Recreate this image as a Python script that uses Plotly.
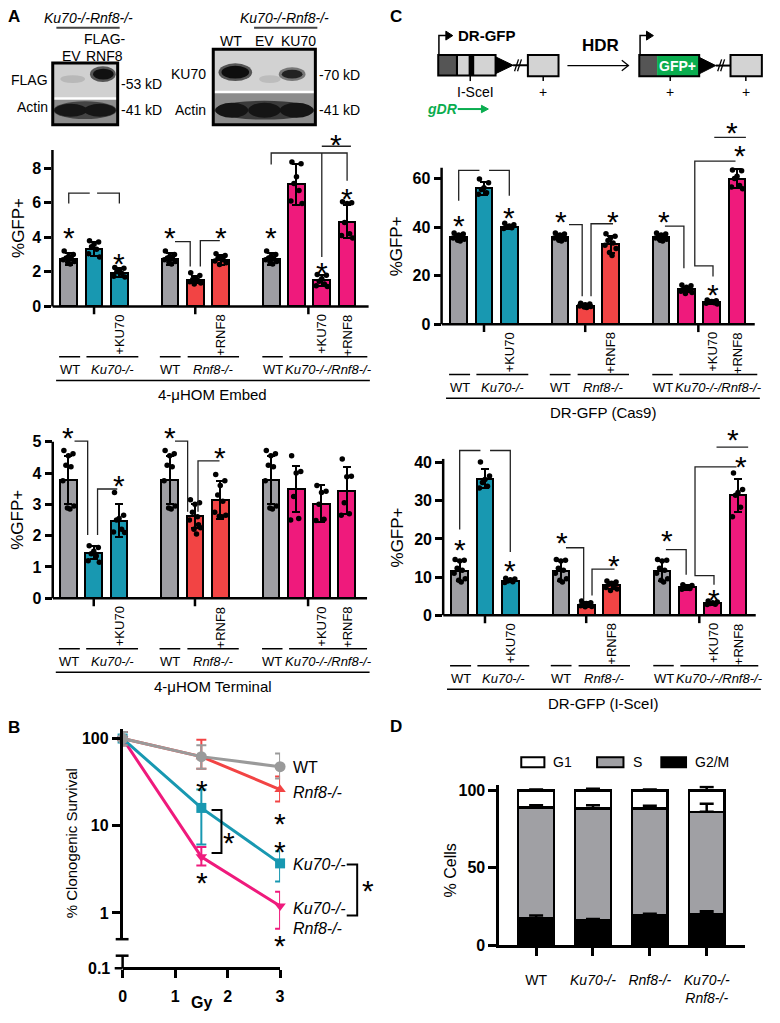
import plotly.graph_objects as go

W, H = 780, 1023
FONT = "Liberation Sans, Arial, sans-serif"

GRAY = "#9e9ea3"
TEAL = "#1898b1"
RED = "#f24444"
PINK = "#ef1a7c"
GREEN = "#0aad4f"

# ---------------- data ----------------
GROUP_SIZES = [3, 3, 4]
BAR_COLORS = [GRAY, TEAL, TEAL, GRAY, RED, RED, GRAY, PINK, PINK, PINK]
ADDBACK = ["", "", "+KU70", "", "", "+RNF8", "", "", "+KU70", "+RNF8"]
GENOTYPES = ["WT", "<i>Ku70-/-</i>", "WT", "<i>Rnf8-/-</i>", "WT", "<i>Ku70-/-/Rnf8-/-</i>"]

EMBED_MEAN = [2.75, 3.3, 1.95, 2.75, 1.55, 2.7, 2.75, 7.05, 1.5, 4.9]
EMBED_SD = [0.35, 0.4, 0.25, 0.35, 0.2, 0.3, 0.35, 1.2, 0.3, 0.95]
EMBED_DOTS = [
    [3.2, 3.0, 2.9, 2.8, 2.75, 2.7, 2.6, 2.55, 2.45],
    [3.8, 3.72, 3.6, 3.45, 3.3, 3.05, 2.85],
    [2.25, 2.2, 2.1, 2.0, 1.9, 1.75, 1.7],
    [3.2, 3.0, 2.9, 2.8, 2.75, 2.7, 2.6, 2.55, 2.45],
    [1.95, 1.78, 1.65, 1.55, 1.5, 1.42, 1.35, 1.3],
    [3.05, 2.95, 2.85, 2.78, 2.7, 2.62, 2.52, 2.42],
    [3.2, 3.0, 2.9, 2.8, 2.75, 2.7, 2.6, 2.55, 2.45],
    [8.35, 8.25, 7.5, 7.1, 6.7, 6.1, 5.95],
    [1.85, 1.8, 1.6, 1.45, 1.3, 1.2, 1.15],
    [6.05, 6.0, 5.95, 4.85, 4.2, 4.1, 3.95],
]

TERM_MEAN = [3.77, 1.46, 2.48, 3.77, 2.62, 3.14, 3.77, 3.48, 3.02, 3.43]
TERM_SD = [0.77, 0.2, 0.53, 0.77, 0.38, 0.62, 0.77, 0.74, 0.6, 0.75]
TERM_DOTS = [
    [4.72, 4.62, 4.55, 4.25, 4.2, 3.75, 2.95, 2.88, 2.85],
    [1.68, 1.62, 1.5, 1.42, 1.35, 1.2, 1.15],
    [3.38, 2.65, 2.55, 2.5, 2.2, 2.12, 2.1],
    [4.72, 4.62, 4.55, 4.25, 4.2, 3.75, 2.95, 2.88, 2.85],
    [3.15, 3.05, 3.0, 2.75, 2.6, 2.5, 2.25, 2.2, 2.05, 2.35],
    [3.95, 3.75, 3.6, 3.3, 3.1, 2.75, 2.65, 2.62, 2.6],
    [4.72, 4.62, 4.55, 4.25, 4.2, 3.75, 2.95, 2.88, 2.85],
    [4.55, 4.05, 4.0, 3.25, 2.55, 2.5],
    [3.6, 3.42, 3.38, 3.0, 2.52, 2.48],
    [4.45, 3.9, 3.88, 3.05, 2.7, 2.65],
]

CAS9_MEAN = [36, 56, 40, 36, 7.7, 33, 36, 14.3, 9.1, 60]
CAS9_SD = [1.3, 2.8, 0.8, 1.3, 0.5, 3.5, 1.3, 1.2, 0.7, 3.9]
CAS9_DOTS = [
    [37.6, 37.2, 36.8, 36.3, 35.9, 35.5, 35.0, 34.6, 34.3],
    [59.8, 58.3, 56.2, 55.5, 54.2, 53.6],
    [41.6, 41.0, 40.5, 40.1, 39.7, 39.4],
    [37.6, 37.2, 36.8, 36.3, 35.9, 35.5, 35.0, 34.6, 34.3],
    [8.6, 8.3, 8.0, 7.8, 7.6, 7.5, 7.3, 7.1, 6.9],
    [37.3, 36.2, 35.5, 34.5, 33.5, 32.5, 31.2, 29.5, 28.3],
    [37.6, 37.2, 36.8, 36.3, 35.9, 35.5, 35.0, 34.6, 34.3],
    [16.2, 15.8, 15.2, 14.6, 14.0, 13.6, 13.1, 12.7],
    [10.0, 9.7, 9.4, 9.1, 8.8, 8.6, 8.3],
    [63.5, 63.2, 61.0, 60.0, 57.2, 56.5, 55.8],
]

ISCE_MEAN = [11.5, 35.8, 9.1, 11.5, 2.8, 7.8, 11.5, 7.3, 3.2, 31.5]
ISCE_SD = [2.6, 2.5, 0.5, 2.6, 0.6, 1.0, 2.6, 0.6, 0.4, 4.3]
ISCE_DOTS = [
    [14.6, 14.4, 14.2, 12.3, 11.8, 11.0, 9.6, 9.2, 8.7],
    [40.2, 36.5, 35.6, 34.8, 33.8, 33.4],
    [9.7, 9.5, 9.3, 9.0, 8.8, 8.6],
    [14.6, 14.4, 14.2, 12.3, 11.8, 11.0, 9.6, 9.2, 8.7],
    [3.7, 3.3, 3.1, 2.9, 2.7, 2.5, 2.3, 2.2],
    [9.0, 8.7, 8.4, 8.1, 7.7, 7.3, 6.9, 6.5],
    [14.6, 14.4, 14.2, 12.3, 11.8, 11.0, 9.6, 9.2, 8.7],
    [8.0, 7.8, 7.5, 7.2, 7.0, 6.8],
    [3.7, 3.5, 3.3, 3.1, 2.9, 2.8],
    [37.3, 33.0, 32.2, 31.5, 28.3, 25.8],
]

# significance brackets (bar slot, value) and stars
EMBED_BRACKETS = [
    [(0, 5.95), (0, 6.55), (0.83, 6.55)], [(1.12, 6.55), (2, 6.55), (2, 5.95)],
    [(4.2, 3.75), (4.8, 3.75), (4.8, 2.3)], [(5.2, 2.3), (5.2, 3.8), (5.97, 3.8)],
    [(8, 8.2), (8, 8.87), (11, 8.87), (11, 7.26)], [(10, 8.87), (10, 2.85)],
    [(10, 9.26), (11.15, 9.26)],
]
EMBED_STARS = [(0, 4.35), (2, 2.85), (4, 4.35), (6, 4.35), (8, 4.35), (10, 2.35), (11, 6.6), (10.55, 9.75)]

TERM_BRACKETS = [
    [(0.24, 5.02), (0.76, 5.02), (0.76, 2.02)], [(1.15, 2.02), (1.15, 3.49), (1.93, 3.49)],
    [(4.21, 5.02), (4.71, 5.02), (4.71, 2.76)], [(5.12, 2.76), (5.12, 4.39), (5.97, 4.39)],
]
TERM_STARS = [(0, 5.33), (2, 3.81), (4, 5.33), (6, 4.7)]

CAS9_BRACKETS = [
    [(0, 50.9), (0, 63.4), (0.82, 63.4)], [(1.2, 63.4), (2, 63.4), (2, 52.9)],
    [(4.36, 41), (4.88, 41), (4.88, 11.5)], [(5.23, 11.5), (5.23, 41.4), (6.1, 41.4)],
    [(8.15, 40.4), (8.9, 40.4), (8.9, 23.1)],
    [(10.05, 19.7), (10.05, 24), (9.33, 24), (9.33, 67.2), (10.94, 67.2)],
    [(10.1, 77), (11.35, 77)],
]
CAS9_STARS = [(0, 43.4), (2, 46.8), (4.05, 44.8), (6.1, 44.8), (8.1, 44.8), (10.05, 15), (11.1, 72), (10.8, 81.5)]

ISCE_BRACKETS = [
    [(0, 22.5), (0, 43.2), (0.82, 43.2)], [(1.2, 43.2), (2, 43.2), (2, 16.6)],
    [(4.2, 17.7), (4.9, 17.7), (4.9, 4.1)], [(5.23, 5.2), (5.23, 12.1), (6.12, 12.1)],
    [(8.15, 17.2), (8.95, 17.2), (8.95, 10.6)],
    [(10.05, 8.0), (10.05, 10.4), (9.3, 10.4), (9.3, 38.9), (10.94, 38.9)],
    [(10.15, 44.1), (11.4, 44.1)],
]
ISCE_STARS = [(0, 19), (2, 13.4), (4.05, 20.7), (6.1, 14.7), (8.2, 21.3), (10.05, 5.9), (11.1, 40.8), (10.8, 47.8)]

# panel B: clonogenic survival
DOSES = [0, 1.5, 3]
SURV = {
    "Ku70-/-Rnf8-/-": ([100, 4.4, 1.2], [19, 1.3, 0.55], [16, 0.9, 0.54]),
    "Ku70-/-": ([100, 16, 3.7], [19, 10, 1.4], [16, 9.9, 1.4]),
    "Rnf8-/-": ([100, 62, 26], [19, 35, 10.8], [16, 17, 7]),
    "WT": ([100, 62, 47.5], [19, 22, 20], [16, 17, 12.6]),
}
SURV_STYLE = {
    "Ku70-/-Rnf8-/-": (PINK, "triangle-down"),
    "Ku70-/-": (TEAL, "square"),
    "Rnf8-/-": (RED, "triangle-up"),
    "WT": ("#9a9a9a", "circle"),
}

# panel D: cell cycle
D_GENOTYPES = ["WT", "<i>Ku70-/-</i>", "<i>Rnf8-/-</i>", "<i>Ku70-/-<br>Rnf8-/-</i>"]
G2M = [17.2, 16.1, 19.1, 20.2]
S_PHASE = [71.7, 72.2, 69.2, 65.9]
G1 = [11.1, 11.7, 11.7, 13.9]
G2M_ERR = [1.9, 0.7, 1.1, 1.7]
S_ERR = [1.5, 2.0, 1.8, 5.3]
G1_ERR = [0.5, 1.0, 0.6, 2.1]

# ---------------- helpers ----------------
fig = go.Figure()
shapes, annos, axes = [], [], {}


def px(x):
    return x / W


def py(y):
    return 1 - y / H


def seg(x0, y0, x1, y1, w=1.5, c="black", xref="paper", yref="paper"):
    shapes.append(dict(type="line", x0=x0, y0=y0, x1=x1, y1=y1, xref=xref, yref=yref,
                       line=dict(color=c, width=w)))


def pline(x0, y0, x1, y1, w=1.5, c="black"):
    seg(px(x0), py(y0), px(x1), py(y1), w, c)


def prect(x0, y0, x1, y1, fill="rgba(0,0,0,0)", lw=0, lc="black", kind="rect"):
    shapes.append(dict(type=kind, x0=px(x0), y0=py(y0), x1=px(x1), y1=py(y1), xref="paper", yref="paper",
                       fillcolor=fill, line=dict(color=lc, width=lw)))


def ppath(pts, fill=None, lw=1.5, lc="black", close=False):
    d = "M" + " L".join(f"{px(x):.5f},{py(y):.5f}" for x, y in pts) + (" Z" if close else "")
    shapes.append(dict(type="path", path=d, xref="paper", yref="paper",
                       fillcolor=fill or "rgba(0,0,0,0)", line=dict(color=lc, width=lw)))


def text(x, y, t, size=14, xa="center", ya="middle", color="black", bold=False, angle=0,
         xref="paper", yref="paper", yshift=0, height=None):
    a = dict(x=x, y=y, xref=xref, yref=yref, text=t, showarrow=False, xanchor=xa, yanchor=ya,
             textangle=angle, yshift=yshift,
             font=dict(family=FONT, size=size, color=color, weight="bold" if bold else "normal"))
    if height:
        a["height"] = height
    annos.append(a)


def ptext(x, y, t, size=14, **kw):
    text(px(x), py(y), t, size, **kw)


STAR = 30
STAR_SHIFT = -6
STAR_BOX = 26


def star(x, y, xref="paper", yref="paper"):
    text(x, y, "*", STAR, xref=xref, yref=yref, yshift=STAR_SHIFT, height=STAR_BOX)


SLOTS = []
pos = 0
for g in GROUP_SIZES:
    SLOTS += [pos + i for i in range(g)]
    pos += g + 1

SLOTW = 25.6
JIT = [-0.18, 0.18, 0.0, -0.1, 0.1, -0.22, 0.22, -0.04, 0.06, 0.14]
UNDER_TICKS = [1, 5, 9.47]
UNDER_SEGS = [(-0.38, 0.45), (0.7, 2.75), (3.6, 4.42), (4.7, 6.73), (7.65, 8.46), (8.72, 11.8)]
LONG = (-0.5, 11.9)

GEOM = {
    1: dict(ax=49, slot0=65.5, zero=307, unit=17.5, top=122, right=378, ytop=9.05, yt=[0, 2, 4, 6, 8],
            xend=11.85, tx=14),
    2: dict(ax=49.3, slot0=65.2, zero=602.3, unit=31.67, top=420, right=378, ytop=5, yt=[0, 1, 2, 3, 4, 5],
            xend=11.8, tx=14),
    3: dict(ax=442.7, slot0=460, zero=325, unit=2.455, top=110, right=775, ytop=64.5, yt=[0, 20, 40, 60],
            xend=11.7, tx=398),
    4: dict(ax=444.3, slot0=461, zero=619.5, unit=3.858, top=425, right=775, ytop=41, yt=[0, 10, 20, 30, 40],
            xend=11.7, tx=398),
}


def bar_panel(n, mean, sd, dots, brackets, stars, title):
    g = GEOM[n]
    s = "" if n == 1 else str(n)
    xr, yr = "x" + s, "y" + s
    xlo = (g["ax"] - g["slot0"]) / SLOTW
    xhi = (g["right"] - g["slot0"]) / SLOTW
    bot = g["zero"] + 14
    axes["xaxis" + s] = dict(domain=[px(g["ax"]), px(g["right"])], range=[xlo, xhi], visible=False,
                             anchor=yr)
    axes["yaxis" + s] = dict(domain=[py(bot), py(g["top"])],
                             range=[-(bot - g["zero"]) / g["unit"], (g["zero"] - g["top"]) / g["unit"]],
                             anchor=xr, tickvals=g["yt"], ticks="outside", ticklen=7, tickwidth=2.5,
                             tickcolor="black", showgrid=False, zeroline=False, showline=False,
                             tickfont=dict(family=FONT, size=16, weight="bold", color="black"))
    fig.add_bar(x=SLOTS, y=mean, xaxis=xr, yaxis=yr, width=0.66,
                marker=dict(color=BAR_COLORS, line=dict(color="black", width=2)),
                error_y=dict(type="data", array=sd, color="black", thickness=2, width=4),
                showlegend=False)
    xs, ys = [], []
    for slot, d in zip(SLOTS, dots):
        for i, v in enumerate(d):
            xs.append(slot + JIT[i])
            ys.append(v)
    fig.add_scatter(x=xs, y=ys, mode="markers", xaxis=xr, yaxis=yr, cliponaxis=False,
                    marker=dict(color="black", size=5.5), showlegend=False)
    # axis lines
    seg(px(g["ax"]), 0, px(g["ax"]), g["ytop"], 2.5, xref="paper", yref=yr)
    seg(xlo, 0, g["xend"], 0, 2.5, xref=xr, yref=yr)
    for t in UNDER_TICKS:
        seg(t, py(g["zero"]), t, py(g["zero"] + 8), 2.5, xref=xr, yref="paper")
    for slot, lab in zip(SLOTS, ADDBACK):
        if lab:
            text(slot, py(g["zero"] + 6), lab, 13, ya="top", angle=-90, xref=xr)
    for (a, b), lab in zip(UNDER_SEGS, GENOTYPES):
        seg(a, py(g["zero"] + 51), b, py(g["zero"] + 51), 1.5, xref=xr, yref="paper")
        text((a + b) / 2, py(g["zero"] + 64), lab, 13, xref=xr)
    seg(LONG[0], py(g["zero"] + 75), LONG[1], py(g["zero"] + 75), 1.5, xref=xr, yref="paper")
    text((LONG[0] + LONG[1]) / 2, py(g["zero"] + 89), title, 15, xref=xr)
    # y title
    ptext(g["tx"], g["zero"] - g["ytop"] * g["unit"] / 2, "%GFP+", 17, angle=-90)
    # brackets and stars
    for br in brackets:
        d = "M" + " L".join(f"{x},{y}" for x, y in br)
        shapes.append(dict(type="path", path=d, xref=xr, yref=yr, line=dict(color="#222", width=1.3)))
    for x, y in stars:
        star(x, y, xref=xr, yref=yr)


bar_panel(1, EMBED_MEAN, EMBED_SD, EMBED_DOTS, EMBED_BRACKETS, EMBED_STARS, "4-μHOM Embed")
bar_panel(2, TERM_MEAN, TERM_SD, TERM_DOTS, TERM_BRACKETS, TERM_STARS, "4-μHOM Terminal")
bar_panel(3, CAS9_MEAN, CAS9_SD, CAS9_DOTS, CAS9_BRACKETS, CAS9_STARS, "DR-GFP (Cas9)")
bar_panel(4, ISCE_MEAN, ISCE_SD, ISCE_DOTS, ISCE_BRACKETS, ISCE_STARS, "DR-GFP (I-SceI)")

# ---------------- panel B ----------------
for name, (vals, up, dn) in SURV.items():
    col, sym = SURV_STYLE[name]
    fig.add_scatter(x=DOSES, y=vals, xaxis="x5", yaxis="y5", mode="lines+markers", cliponaxis=False,
                    line=dict(color=col, width=3),
                    marker=dict(color=col, symbol=sym, size=10 if sym != "circle" else 11),
                    error_y=dict(type="data", symmetric=False, array=up, arrayminus=dn, color=col,
                                 thickness=2, width=5),
                    showlegend=False)
axes["xaxis5"] = dict(domain=[px(120), px(279.3)], range=[0, 3], anchor="free", position=py(976.7),
                      tickvals=[0, 1, 2, 3], ticks="outside", ticklen=8, tickwidth=2.5, tickcolor="black",
                      showline=True, linewidth=2.5, linecolor="black", showgrid=False, zeroline=False,
                      ticklabelstandoff=5,
                      tickfont=dict(family=FONT, size=16, weight="bold", color="black"))
axes["yaxis5"] = dict(domain=[py(947.3), py(734.2)], type="log", range=[-0.30103, 2.11394], anchor="x5",
                      tickvals=[1, 10, 100], ticktext=["1", "10", "100"], ticks="outside", ticklen=8,
                      tickwidth=2.5, tickcolor="black", showline=True, linewidth=2.5, linecolor="black",
                      showgrid=False, zeroline=False,
                      tickfont=dict(family=FONT, size=16, weight="bold", color="black"))
# axis break and 0.1 segment
pline(113, 947.3, 126, 947.3, 2.5)
pline(113, 964, 126, 964, 2.5)
pline(120, 964, 120, 976.7, 2.5)
pline(112, 976.7, 120, 976.7, 2.5)
ptext(109, 976.7, "0.1", 16, xa="right", bold=True)
ptext(199.7, 1011, "Gy", 16, bold=True)
ptext(68, 850, "% Clonogenic Survival", 15, angle=-90)
ptext(290, 773.3, "WT", 16, xa="left")
ptext(290, 799.3, "<i>Rnf8-/-</i>", 16, xa="left")
ptext(290, 871.7, "<i>Ku70-/-</i>", 16, xa="left")
ptext(290, 916.7, "<i>Ku70-/-</i>", 16, xa="left")
ptext(290, 936.7, "<i>Rnf8-/-</i>", 16, xa="left")
ppath([(210, 816.7), (220, 816.7), (220, 860), (210, 860)], lw=2)
ppath([(346.7, 871.7), (357.3, 871.7), (357.3, 923.3), (346.7, 923.3)], lw=2)
for x, y in [(200, 790), (200, 883.3), (279.3, 823.3), (279.3, 851.7), (279.3, 946.7), (228, 843.3),
             (368, 891.7)]:
    star(px(x), py(y))

# ---------------- panel D ----------------
for vals, col in [(G2M, "black"), (S_PHASE, "#a0a0a4"), (G1, "white")]:
    fig.add_bar(x=[0, 1, 2, 3], y=vals, xaxis="x6", yaxis="y6", width=0.63,
                marker=dict(color=col, line=dict(color="black", width=2.5)), showlegend=False)
tops = [0, 0, 0, 0]
for vals, err in [(G2M, G2M_ERR), (S_PHASE, S_ERR), (G1, G1_ERR)]:
    tops = [a + b for a, b in zip(tops, vals)]
    fig.add_scatter(x=[0, 1, 2, 3], y=tops, xaxis="x6", yaxis="y6", mode="markers", cliponaxis=False,
                    marker=dict(size=1, color="rgba(0,0,0,0)"),
                    error_y=dict(type="data", symmetric=False, array=err, arrayminus=[0, 0, 0, 0],
                                 color="black", thickness=2.5, width=7),
                    showlegend=False)
axes["xaxis6"] = dict(domain=[px(501), px(750)], range=[-0.649, 3.68], anchor="y6",
                      tickvals=[0, 1, 2, 3], ticktext=D_GENOTYPES, ticks="outside", ticklen=8, tickwidth=2.5,
                      tickcolor="black", showline=True, linewidth=2.5, linecolor="black", showgrid=False,
                      zeroline=False, ticklabelstandoff=12, tickangle=0,
                      tickfont=dict(family=FONT, size=14, color="black"))
axes["yaxis6"] = dict(domain=[py(953.3), py(791.7)], range=[0, 103.2], anchor="x6",
                      tickvals=[0, 50, 100], ticks="outside", ticklen=8, tickwidth=2.5, tickcolor="black",
                      showline=True, linewidth=2.5, linecolor="black", showgrid=False, zeroline=False,
                      tickfont=dict(family=FONT, size=16, weight="bold", color="black"))
ptext(452, 878, "% Cells", 16, angle=-90)
for (x0, x1, col), (tx, lab) in zip([(523.3, 546.7, "white"), (600, 626.7, "#a0a0a4"), (665, 690, "black")],
                                    [(553.3, "G1"), (634, "S"), (697, "G2/M")]):
    prect(x0, 763.3, x1, 773.3, col, lw=2)
    ptext(tx, 768.3, lab, 14, xa="left")

# ---------------- panel A blots ----------------
prect(49.3, 60.7, 115, 96.7, "#d0d0d0")
prect(49.3, 96.7, 115, 123.3, "#8c8c8c")
prect(87, 64, 113, 80, "#555555", kind="circle")
prect(90, 66.5, 111, 77.5, "#111111", kind="circle")
prect(57, 73, 82, 81, "#b8b8b8", kind="circle")
prect(50, 99.5, 114, 117.5, "#444444", kind="circle")
prect(51, 102, 84, 115, "#161616", kind="circle")
prect(81, 102, 113, 115, "#161616", kind="circle")
pline(49.3, 96.7, 115, 96.7, 2.5, "white")
prect(49.3, 60.7, 115, 123.3, lw=3)

prect(211.7, 46.7, 315, 90, "#d2d2d2")
prect(211.7, 90, 315, 123.3, "#8c8c8c")
prect(217, 61, 251, 79, "#555555", kind="circle")
prect(220, 63.5, 248, 76.5, "#0e0e0e", kind="circle")
prect(258, 73, 280, 81, "#bcbcbc", kind="circle")
prect(278, 65, 305, 79, "#777777", kind="circle")
prect(281, 67.5, 302, 76.5, "#222222", kind="circle")
prect(213, 99, 314, 118, "#3a3a3a", kind="circle")
for a, b in [(214, 247), (247, 280), (279, 313)]:
    prect(a, 101, b, 116, "#151515", kind="circle")
pline(211.7, 90, 315, 90, 2.5, "white")
prect(211.7, 46.7, 315, 123.3, lw=3)

ptext(85, 15, "<i>Ku70-/-Rnf8-/-</i>", 14)
pline(53, 25, 117, 25, 2, "#444")
ptext(68.3, 53.3, "EV", 14)
ptext(101.7, 36.7, "FLAG-", 14)
ptext(101.7, 53.3, "RNF8", 14)
ptext(46.7, 78.3, "FLAG", 14, xa="right")
ptext(46.7, 105, "Actin", 14, xa="right")
ptext(116.5, 81.7, "-53 kD", 14, xa="left")
ptext(116.5, 108.3, "-41 kD", 14, xa="left")
ptext(283.3, 15, "<i>Ku70-/-Rnf8-/-</i>", 14)
pline(253, 25, 317, 25, 2, "#444")
ptext(230, 38.3, "WT", 14)
ptext(263.3, 38.3, "EV", 14)
ptext(298.3, 38.3, "KU70", 14)
ptext(206, 71.7, "KU70", 14, xa="right")
ptext(206, 108.3, "Actin", 14, xa="right")
ptext(316.5, 73.3, "-70 kD", 14, xa="left")
ptext(316.5, 108.3, "-41 kD", 14, xa="left")

# ---------------- panel C diagram ----------------
prect(439.3, 52.7, 456.7, 73.3, "#555555")
prect(456.7, 52.7, 459.3, 73.3, "black")
prect(459.3, 52.7, 470, 73.3, "#d3d3d3")
prect(470, 52.7, 476, 73.3, "black")
prect(476, 52.7, 497.3, 73.3, "#d3d3d3")
prect(439.3, 52.7, 497.3, 73.3, lw=2)
ppath([(497.3, 54.5), (515, 63), (497.3, 71.5)], fill="black", lw=1, close=True)
pline(515, 63, 530, 63, 2)
pline(516.5, 69, 520.5, 57, 1.3)
pline(519.5, 69, 523.5, 57, 1.3)
prect(530, 52.7, 561, 74, "#d3d3d3", lw=2)
pline(471.7, 73.3, 471.7, 79, 1.5)
pline(545.5, 74, 545.5, 79, 1.5)
ptext(476.7, 90, "I-SceI", 14)
ptext(545.5, 90, "+", 14)
ppath([(440, 53), (440, 33), (448, 33)], lw=1.5)
ppath([(447, 28.5), (454, 33), (447, 37.5)], fill="black", lw=1, close=True)
ptext(489, 33.3, "DR-GFP", 15, bold=True)
ptext(444, 107.3, "<i>gDR</i>", 14, color=GREEN, bold=True)
pline(459, 107.3, 485, 107.3, 2, GREEN)
ppath([(483, 103.5), (490, 107.3), (483, 111)], fill=GREEN, lw=1, lc=GREEN, close=True)

ptext(603.3, 43.3, "HDR", 17, bold=True)
pline(570, 63.3, 631.7, 63.3, 1.3)
ppath([(625, 58), (631.7, 63.3), (625, 68.6)], lw=1.3)

prect(642.7, 52.7, 660.7, 74, "#555555")
prect(660.7, 52.7, 703.3, 74, GREEN)
prect(642.7, 52.7, 703.3, 74, lw=2)
ptext(681, 63.3, "GFP+", 14, color="white", bold=True)
ppath([(703.3, 55), (720, 63.3), (703.3, 71.7)], fill="black", lw=1, close=True)
pline(720, 63.3, 735, 63.3, 2)
pline(722, 69, 726, 57, 1.3)
pline(725, 69, 729, 57, 1.3)
prect(735, 52.7, 766.7, 74, "#d3d3d3", lw=2)
pline(674, 74, 674, 79, 1.5)
pline(750.5, 74, 750.5, 79, 1.5)
ptext(674, 90, "+", 14)
ptext(750.5, 90, "+", 14)
ppath([(643.5, 53), (643.5, 33), (651, 33)], lw=1.5)
ppath([(650, 28.5), (657, 33), (650, 37.5)], fill="black", lw=1, close=True)

# panel letters
for x, y, lab in [(10, 14, "A"), (10, 733, "B"), (397, 14, "C"), (397, 732, "D")]:
    ptext(x, y, lab, 17, bold=True)

fig.update_layout(width=W, height=H, margin=dict(l=0, r=0, t=0, b=0), plot_bgcolor="white",
                  paper_bgcolor="white", barmode="stack", showlegend=False, shapes=shapes,
                  annotations=annos, font=dict(family=FONT, color="black"), **axes)
# page body has a default 8px margin; remove it so the figure sits at the window origin
fig.write_html("out.html", config={"displayModeBar": False},
               post_script="document.body.style.margin='0';")
